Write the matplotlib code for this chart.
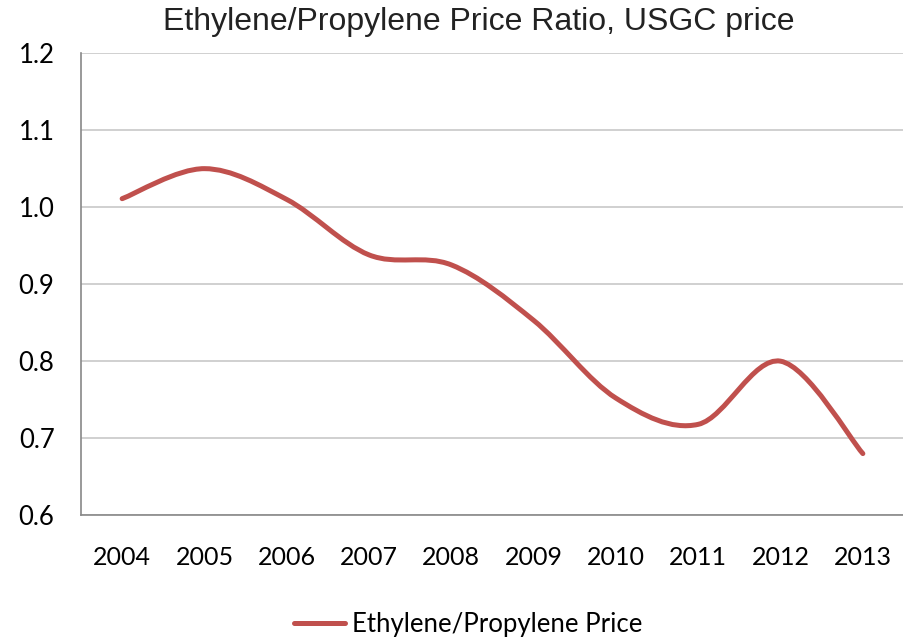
import numpy as np
import matplotlib.pyplot as plt
from matplotlib.path import Path
from matplotlib.patches import PathPatch
from matplotlib.lines import Line2D

years = ['2004', '2005', '2006', '2007', '2008', '2009', '2010', '2011', '2012', '2013']
ratio = [1.011, 1.050, 1.010, 0.938, 0.925, 0.853, 0.752, 0.718, 0.800, 0.680]
yticks = [0.6, 0.7, 0.8, 0.9, 1.0, 1.1, 1.2]

color = '#C0504D'
tick_font = 'Lato'

fig = plt.figure(figsize=(9.04, 6.4), dpi=100)
ax = fig.add_axes([0.0896, 0.195, 0.9104, 0.722])

# smoothed line like excel (catmull-rom -> bezier)
x = np.arange(len(ratio), dtype=float)
y = np.array(ratio)
verts = [(x[0], y[0])]
codes = [Path.MOVETO]
n = len(x)
for i in range(n - 1):
    p0 = i - 1 if i > 0 else i
    p3 = i + 2 if i + 2 < n else i + 1
    c1 = (x[i] + (x[i+1] - x[p0]) / 6, y[i] + (y[i+1] - y[p0]) / 6)
    c2 = (x[i+1] - (x[p3] - x[i]) / 6, y[i+1] - (y[p3] - y[i]) / 6)
    verts += [c1, c2, (x[i+1], y[i+1])]
    codes += [Path.CURVE4] * 3
patch = PathPatch(Path(verts, codes), fill=False, edgecolor=color, lw=3.6,
                  capstyle='round', joinstyle='round', zorder=3)
ax.add_patch(patch)

ax.set_xlim(-0.5, len(years) - 0.5)
ax.set_ylim(0.6, 1.2)
ax.set_yticks(yticks)
ax.set_yticklabels(['%.1f' % v for v in yticks], fontsize=18.5, family=tick_font)
ax.set_xticks(x)
ax.set_xticklabels(years, fontsize=18, family=tick_font)
ax.tick_params(length=0)
ax.tick_params(axis='y', pad=19)
ax.tick_params(axis='x', pad=22)
ax.grid(axis='y', color='#C8C8C8', lw=1.2)
ax.set_axisbelow(True)
for s in ['top', 'right']:
    ax.spines[s].set_visible(False)
for s in ['left', 'bottom']:
    ax.spines[s].set_color('#888888')
    ax.spines[s].set_linewidth(1.2)

fig.text(0.53, 0.966, 'Ethylene/Propylene Price Ratio, USGC price', ha='center', va='center',
         fontsize=23, family='Liberation Sans', color='#222222')

handle = Line2D([], [], color=color, lw=3.6, solid_capstyle='round')
fig.legend([handle], ['Ethylene/Propylene Price'], loc='center', bbox_to_anchor=(0.518, 0.024),
           frameon=False, prop={'family': tick_font, 'size': 18.5}, handlelength=2.0,
           handletextpad=0.28)

fig.savefig('out.png', dpi=100)
